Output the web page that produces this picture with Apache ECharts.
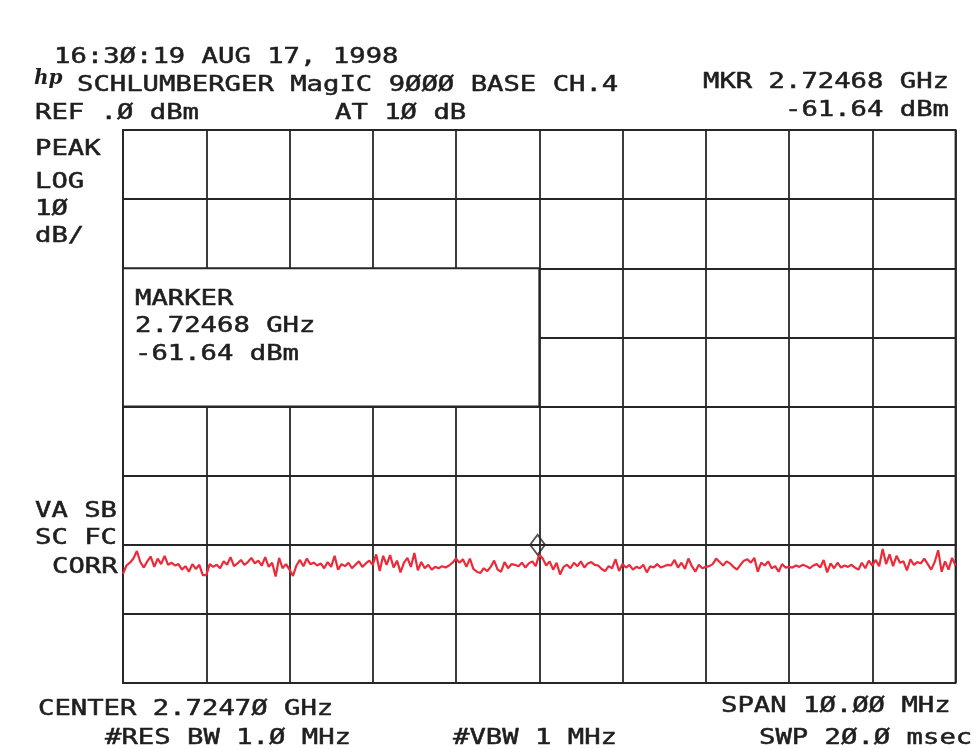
<!DOCTYPE html>
<html>
<head>
<meta charset="utf-8">
<script src="https://cdn.jsdelivr.net/npm/echarts@6/dist/echarts.min.js"></script>
<style>
html,body{margin:0;padding:0;background:#fff;}
#chart{width:979px;height:749px;}
</style>
</head>
<body>
<div id="chart"></div>
<script>
// ---- data ----
const centerGHz = 2.72470;
const spanMHz = 10.0;
const refLevel = 0;           // dBm
const dbPerDiv = 10;
const yDivs = 8;
const xDivs = 10;
const markerOffsetMHz = -0.02;   // 2.72468 GHz relative to center
const markerDiamondLevel = -60.0;
const markerBox = { x0: -5, x1: 0, yTop: -20, yBottom: -40 };

const traceDiv1 = [-64.2, -63.0, -62.6, -62.0, -60.9, -62.5, -63.3, -62.4, -61.7, -63.2, -62.0, -62.8, -61.6, -62.9, -62.6, -63.0, -62.8, -63.6, -63.1, -63.9, -62.8, -63.5, -62.9, -64.4, -64.4];
const traceDiv2 = [-62.8, -63.2, -62.9, -63.4, -62.4, -62.9, -61.8, -63.1, -62.7, -62.2, -62.9, -62.5, -61.9, -62.7, -62.3, -63.0, -61.8, -63.2, -62.6, -64.6, -61.9, -63.4, -62.8, -63.6];
const traceDiv3 = [-64.5, -63.0, -62.2, -63.1, -62.0, -62.8, -62.6, -63.0, -62.7, -63.4, -62.5, -63.2, -61.6, -63.6, -62.8, -63.1, -62.6, -63.4, -62.9, -62.4, -63.2, -62.7, -62.3, -62.9];
const traceDiv4 = [-61.4, -63.8, -61.6, -62.9, -61.5, -63.3, -62.3, -64.0, -62.6, -61.9, -63.2, -61.2, -63.7, -62.5, -63.4, -62.9, -63.6, -63.2, -63.4, -63.1, -63.3, -63.0, -62.6, -62.0];
const traceDiv5 = [-62.6, -62.1, -63.2, -62.0, -63.5, -63.9, -64.1, -63.4, -63.8, -63.2, -62.3, -63.6, -63.9, -62.5, -63.4, -62.8, -62.9, -63.1, -62.6, -63.3, -62.7, -62.4, -63.1, -61.4];
const traceDiv6 = [-62.0, -63.0, -62.4, -63.6, -62.6, -64.3, -63.2, -62.9, -63.4, -62.6, -63.1, -62.4, -63.3, -62.7, -62.5, -62.9, -63.0, -63.5, -63.8, -63.1, -63.4, -62.1, -63.8, -62.8];
const traceDiv7 = [-63.3, -62.9, -63.6, -63.2, -63.4, -62.9, -64.0, -63.1, -63.3, -62.8, -63.3, -63.1, -62.9, -63.0, -62.2, -63.3, -62.6, -63.5, -62.0, -63.1, -63.9, -62.9, -63.4, -63.2];
const traceDiv8 = [-63.1, -62.8, -62.0, -62.5, -63.0, -62.4, -62.7, -63.2, -63.6, -62.9, -62.3, -62.1, -62.6, -61.9, -63.9, -62.6, -63.0, -62.4, -63.4, -63.1, -63.9, -62.8, -63.3, -63.2];
const traceDiv9 = [-63.3, -63.0, -63.2, -62.9, -63.1, -63.4, -63.0, -62.8, -63.3, -62.2, -64.0, -62.7, -63.4, -62.6, -63.3, -63.0, -63.2, -62.9, -63.3, -63.6, -62.6, -63.4, -62.3, -63.0];
const traceDiv10 = [-62.2, -63.1, -60.6, -62.8, -61.4, -63.1, -61.6, -62.6, -62.4, -63.7, -62.1, -62.9, -62.5, -62.7, -62.0, -62.8, -63.6, -62.5, -60.8, -63.9, -62.4, -63.6, -61.9, -63.0];

// header / annotation texts
const headerLines = [
  { t: '16:3Ø:19 AUG 17, 1998', x: 54, b: 65 },
  { t: 'SCHLUMBERGER MagIC 9ØØØ BASE CH.4', x: 77, b: 93 },
  { t: 'MKR 2.72468 GHz', x: 703, b: 90 },
  { t: 'REF .Ø dBm', x: 35, b: 121 },
  { t: 'AT 1Ø dB', x: 335, b: 121 },
  { t: '-61.64 dBm', x: 785, b: 118 },
  { t: 'PEAK', x: 35, b: 157 },
  { t: 'LOG', x: 35, b: 190 },
  { t: '1Ø', x: 35, b: 217 },
  { t: 'dB/', x: 35, b: 244 },
  { t: 'MARKER', x: 135, b: 307 },
  { t: '2.72468 GHz', x: 135, b: 334 },
  { t: '-61.64 dBm', x: 135, b: 362 },
  { t: 'VA SB', x: 35, b: 519 },
  { t: 'SC FC', x: 35, b: 546 },
  { t: 'CORR', x: 52, b: 575 },
  { t: 'CENTER 2.7247Ø GHz', x: 38, b: 717 },
  { t: 'SPAN 1Ø.ØØ MHz', x: 721, b: 714 },
  { t: '#RES BW 1.Ø MHz', x: 105, b: 746 },
  { t: '#VBW 1 MHz', x: 453, b: 746 },
  { t: 'SWP 2Ø.Ø msec', x: 759, b: 746 }
];

// ---- build ----
const traceLevels = [].concat(traceDiv1, traceDiv2, traceDiv3, traceDiv4, traceDiv5,
  traceDiv6, traceDiv7, traceDiv8, traceDiv9, traceDiv10);
const nPts = traceLevels.length;
const traceData = traceLevels.map((v, i) => [-spanMHz / 2 + i * spanMHz / (nPts - 1), v]);

const FONT_SIZE = 21;
const ADV = 16.4;
const SX = ADV / (0.602 * FONT_SIZE);
const INK = '#1e1e1e';

const graphics = headerLines.map(l => ({
  type: 'text',
  x: l.x,
  y: l.b - 7.7,
  scaleX: SX,
  silent: true,
  z: 10,
  style: {
    text: l.t,
    font: FONT_SIZE + 'px "DejaVu Sans Mono"',
    fill: INK,
    stroke: INK,
    lineWidth: 0.5,
    textAlign: 'left',
    textVerticalAlign: 'middle'
  }
}));
graphics.push({
  type: 'text', x: 34, y: 79, silent: true, z: 10,
  style: { text: 'hp', font: 'italic bold 20px "DejaVu Serif"', fill: INK,
           textAlign: 'left', textVerticalAlign: 'middle' }
});

const gridColor = '#262626';
const chart = echarts.init(document.getElementById('chart'), null, { renderer: 'canvas' });
chart.setOption({
  animation: false,
  backgroundColor: '#fff',
  grid: {
    left: 123, right: 23.5, top: 130, bottom: 66,
    show: true, borderColor: gridColor, borderWidth: 1.8, backgroundColor: 'transparent'
  },
  xAxis: {
    type: 'value', min: -spanMHz / 2, max: spanMHz / 2, interval: spanMHz / xDivs,
    axisLine: { show: false }, axisTick: { show: false }, axisLabel: { show: false },
    splitLine: { show: true, lineStyle: { color: gridColor, width: 1.8 } }
  },
  yAxis: {
    type: 'value', min: refLevel - dbPerDiv * yDivs, max: refLevel, interval: dbPerDiv,
    axisLine: { show: false }, axisTick: { show: false }, axisLabel: { show: false },
    splitLine: { show: true, lineStyle: { color: gridColor, width: 1.8 } }
  },
  graphic: graphics,
  series: [
    {
      type: 'line',
      data: traceData,
      showSymbol: false,
      silent: true,
      z: 3,
      lineStyle: { color: '#ec2a3a', width: 2.2 },
      markArea: {
        silent: true,
        itemStyle: { color: '#fff', borderColor: gridColor, borderWidth: 1.8 },
        data: [[{ coord: [markerBox.x0, markerBox.yTop] }, { coord: [markerBox.x1, markerBox.yBottom] }]]
      }
    },
    {
      type: 'scatter',
      silent: true,
      z: 4,
      data: [[markerOffsetMHz, markerDiamondLevel]],
      symbol: 'diamond',
      symbolSize: [15, 20],
      itemStyle: { color: 'rgba(0,0,0,0)', borderColor: gridColor, borderWidth: 1.8 }
    }
  ]
});
</script>
</body>
</html>
